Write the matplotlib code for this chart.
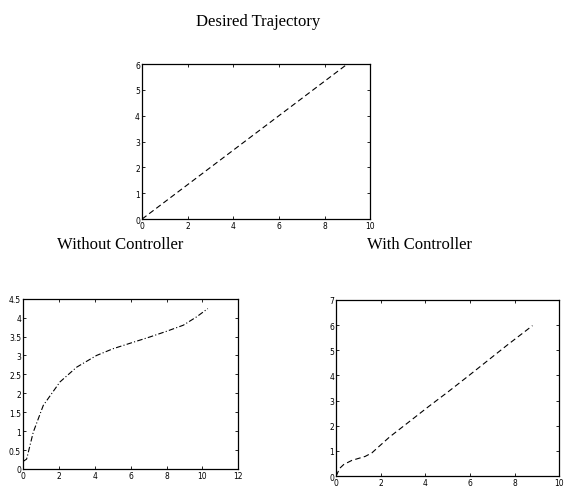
import matplotlib
matplotlib.use("Agg")
import matplotlib.pyplot as plt

# desired path: straight line
des_x = [0, 9]
des_y = [0, 6]

# response without controller
open_x = [0.0, 0.19, 0.56, 1.12, 2.05, 2.98, 4.09, 5.02, 6.14, 7.07, 8.0, 8.93, 9.67, 10.3]
open_y = [0.2, 0.26, 0.97, 1.68, 2.3, 2.69, 3.0, 3.18, 3.35, 3.49, 3.64, 3.8, 4.02, 4.24]

# response with controller
ctrl_x = [0.0, 0.15, 0.34, 0.7, 1.0, 1.3, 1.6, 1.95, 2.39, 3.26, 4.14, 5.02, 5.9, 6.78, 7.66, 8.54, 8.8]
ctrl_y = [0.0, 0.3, 0.46, 0.62, 0.7, 0.78, 0.92, 1.2, 1.55, 2.15, 2.76, 3.35, 3.96, 4.58, 5.2, 5.8, 5.98]

plt.rcParams['font.family'] = ['Liberation Serif', 'DejaVu Serif']

fig = plt.figure(figsize=(5.66, 4.89), dpi=100)


def style(ax, xlim, ylim, xticks, yticks, ylabels=None):
    ax.set_xlim(*xlim)
    ax.set_ylim(*ylim)
    ax.set_xticks(xticks)
    ax.set_yticks(yticks)
    if ylabels is not None:
        ax.set_yticklabels(ylabels)
    ax.tick_params(direction='in', length=2.5, width=0.6, labelsize=5.5,
                   top=True, right=True, pad=1.5)
    for lab in ax.get_xticklabels() + ax.get_yticklabels():
        lab.set_fontfamily('DejaVu Sans')
    for s in ax.spines.values():
        s.set_linewidth(0.9)


ax1 = fig.add_axes([0.251, 0.550, 0.403, 0.317])
ax1.plot(des_x, des_y, color='black', lw=0.8, linestyle=(0, (5, 3)))
style(ax1, (0, 10), (0, 6), range(0, 11, 2), range(0, 7))
fig.text(0.456, 0.955, "Desired Trajectory", ha='center', va='center', fontsize=12)

ax2 = fig.add_axes([0.041, 0.039, 0.380, 0.348])
ax2.plot(open_x, open_y, color='black', lw=0.8, linestyle=(0, (5, 2, 1, 2)))
yt = [0, 0.5, 1, 1.5, 2, 2.5, 3, 3.5, 4, 4.5]
style(ax2, (0, 12), (0, 4.5), range(0, 13, 2), yt, [f"{v:g}" for v in yt])
fig.text(0.212, 0.499, "Without Controller", ha='center', va='center', fontsize=12)

ax3 = fig.add_axes([0.594, 0.0245, 0.394, 0.360])
ax3.plot(ctrl_x, ctrl_y, color='black', lw=0.8, linestyle=(0, (5, 3)))
style(ax3, (0, 10), (0, 7), range(0, 11, 2), range(0, 8))
fig.text(0.742, 0.499, "With Controller", ha='center', va='center', fontsize=12)

fig.savefig("out.png", dpi=100)
